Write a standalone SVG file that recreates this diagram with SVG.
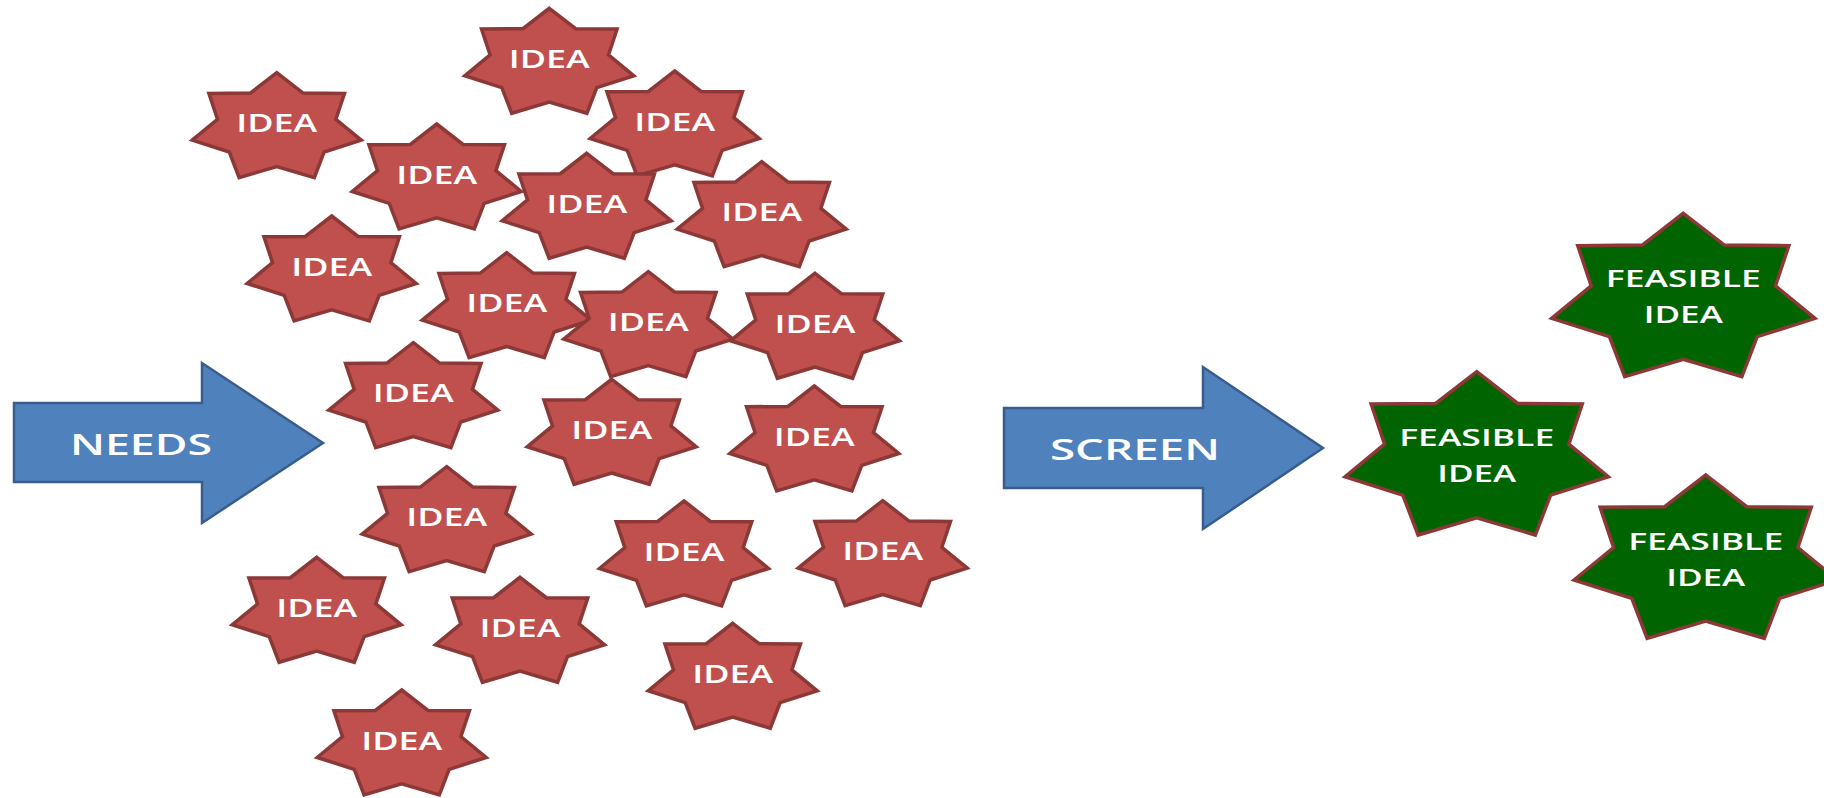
<svg xmlns="http://www.w3.org/2000/svg" xmlns:xlink="http://www.w3.org/1999/xlink" width="1824" height="798" viewBox="0 0 1824 798">
<style>
.idea{fill:#c0504d;stroke:#8c3836;stroke-width:3.5;stroke-linejoin:miter}
.feas{fill:#006400;stroke:#8c3836;stroke-width:3.5;stroke-linejoin:miter}
.arrow{fill:#4f81bd;stroke:#385d8a;stroke-width:2.5;stroke-linejoin:miter}
.t{font-family:"Open Sans","Liberation Sans",sans-serif;font-weight:600;fill:#ffffff;text-anchor:middle}
.ti{font-size:25px}
.tf{font-size:24px}
.ta{font-size:28px}
</style>
<defs>
<path id="star" d="M0,0 L26.33,20.39 L67.78,20.78 L59.17,46.6 L84.52,67.48 L47.45,79.29 L37.62,104.94 L0,93.84 L-37.62,104.94 L-47.45,79.29 L-84.52,67.48 L-59.17,46.6 L-67.78,20.78 L-26.33,20.39 Z"/>
<path id="fstar" d="M0,0 L41,31.72 L105.54,32.34 L92.13,72.52 L131.61,105.01 L73.88,123.39 L58.58,163.3 L0,146.03 L-58.58,163.3 L-73.88,123.39 L-131.61,105.01 L-92.13,72.52 L-105.54,32.34 L-41,31.72 Z"/>
</defs>
<rect width="1824" height="798" fill="#ffffff"/>
<g id="connectors"></g>
<g id="needs-arrow">
<polygon class="arrow" points="14,403 202,403 202,363 323,443 202,523 202,482 14,482"/>
<text class="t ta" x="141" y="455" textLength="142" lengthAdjust="spacingAndGlyphs">NEEDS</text>
</g>
<g id="screen-arrow">
<polygon class="arrow" points="1004,408 1203,408 1203,367 1323,448 1203,529 1203,488 1004,488"/>
<text class="t ta" x="1135" y="460" textLength="170" lengthAdjust="spacingAndGlyphs">SCREEN</text>
</g>
<g id="idea1" transform="translate(549.3,8.3)"><use href="#star" class="idea"/><text class="t ti" x="0" y="59.5" textLength="81" lengthAdjust="spacingAndGlyphs">IDEA</text></g>
<g id="idea2" transform="translate(276.7,72.7)"><use href="#star" class="idea"/><text class="t ti" x="0" y="59.5" textLength="81" lengthAdjust="spacingAndGlyphs">IDEA</text></g>
<g id="idea3" transform="translate(674.7,71)"><use href="#star" class="idea"/><text class="t ti" x="0" y="59.5" textLength="81" lengthAdjust="spacingAndGlyphs">IDEA</text></g>
<g id="idea4" transform="translate(436.7,124)"><use href="#star" class="idea"/><text class="t ti" x="0" y="59.5" textLength="81" lengthAdjust="spacingAndGlyphs">IDEA</text></g>
<g id="idea5" transform="translate(586.7,153.3)"><use href="#star" class="idea"/><text class="t ti" x="0" y="59.5" textLength="81" lengthAdjust="spacingAndGlyphs">IDEA</text></g>
<g id="idea6" transform="translate(761.7,161.7)"><use href="#star" class="idea"/><text class="t ti" x="0" y="59.5" textLength="81" lengthAdjust="spacingAndGlyphs">IDEA</text></g>
<g id="idea7" transform="translate(331.7,216)"><use href="#star" class="idea"/><text class="t ti" x="0" y="59.5" textLength="81" lengthAdjust="spacingAndGlyphs">IDEA</text></g>
<g id="idea8" transform="translate(506.7,252.7)"><use href="#star" class="idea"/><text class="t ti" x="0" y="59.5" textLength="81" lengthAdjust="spacingAndGlyphs">IDEA</text></g>
<g id="idea9" transform="translate(648.3,271.7)"><use href="#star" class="idea"/><text class="t ti" x="0" y="59.5" textLength="81" lengthAdjust="spacingAndGlyphs">IDEA</text></g>
<g id="idea10" transform="translate(815,273.3)"><use href="#star" class="idea"/><text class="t ti" x="0" y="59.5" textLength="81" lengthAdjust="spacingAndGlyphs">IDEA</text></g>
<g id="idea11" transform="translate(413.3,342.7)"><use href="#star" class="idea"/><text class="t ti" x="0" y="59.5" textLength="81" lengthAdjust="spacingAndGlyphs">IDEA</text></g>
<g id="idea12" transform="translate(611.7,379.3)"><use href="#star" class="idea"/><text class="t ti" x="0" y="59.5" textLength="81" lengthAdjust="spacingAndGlyphs">IDEA</text></g>
<g id="idea13" transform="translate(814.3,386)"><use href="#star" class="idea"/><text class="t ti" x="0" y="59.5" textLength="81" lengthAdjust="spacingAndGlyphs">IDEA</text></g>
<g id="idea14" transform="translate(446.7,466.7)"><use href="#star" class="idea"/><text class="t ti" x="0" y="59.5" textLength="81" lengthAdjust="spacingAndGlyphs">IDEA</text></g>
<g id="idea15" transform="translate(684,501)"><use href="#star" class="idea"/><text class="t ti" x="0" y="59.5" textLength="81" lengthAdjust="spacingAndGlyphs">IDEA</text></g>
<g id="idea16" transform="translate(882.7,500.7)"><use href="#star" class="idea"/><text class="t ti" x="0" y="59.5" textLength="81" lengthAdjust="spacingAndGlyphs">IDEA</text></g>
<g id="idea17" transform="translate(316.7,557.3)"><use href="#star" class="idea"/><text class="t ti" x="0" y="59.5" textLength="81" lengthAdjust="spacingAndGlyphs">IDEA</text></g>
<g id="idea18" transform="translate(520,577.3)"><use href="#star" class="idea"/><text class="t ti" x="0" y="59.5" textLength="81" lengthAdjust="spacingAndGlyphs">IDEA</text></g>
<g id="idea19" transform="translate(732.7,623.3)"><use href="#star" class="idea"/><text class="t ti" x="0" y="59.5" textLength="81" lengthAdjust="spacingAndGlyphs">IDEA</text></g>
<g id="idea20" transform="translate(401.7,690)"><use href="#star" class="idea"/><text class="t ti" x="0" y="59.5" textLength="81" lengthAdjust="spacingAndGlyphs">IDEA</text></g>
<g id="feasible1" transform="translate(1476.7,371.7)"><use href="#fstar" class="feas"/><text class="t tf" x="0" y="74" textLength="155" lengthAdjust="spacingAndGlyphs">FEASIBLE</text><text class="t tf" x="0" y="110" textLength="79" lengthAdjust="spacingAndGlyphs">IDEA</text></g>
<g id="feasible2" transform="translate(1683.3,213.3)"><use href="#fstar" class="feas"/><text class="t tf" x="0" y="74" textLength="155" lengthAdjust="spacingAndGlyphs">FEASIBLE</text><text class="t tf" x="0" y="110" textLength="79" lengthAdjust="spacingAndGlyphs">IDEA</text></g>
<g id="feasible3" transform="translate(1705.7,475)"><use href="#fstar" class="feas"/><text class="t tf" x="0" y="75" textLength="155" lengthAdjust="spacingAndGlyphs">FEASIBLE</text><text class="t tf" x="0" y="111" textLength="79" lengthAdjust="spacingAndGlyphs">IDEA</text></g>
</svg>
